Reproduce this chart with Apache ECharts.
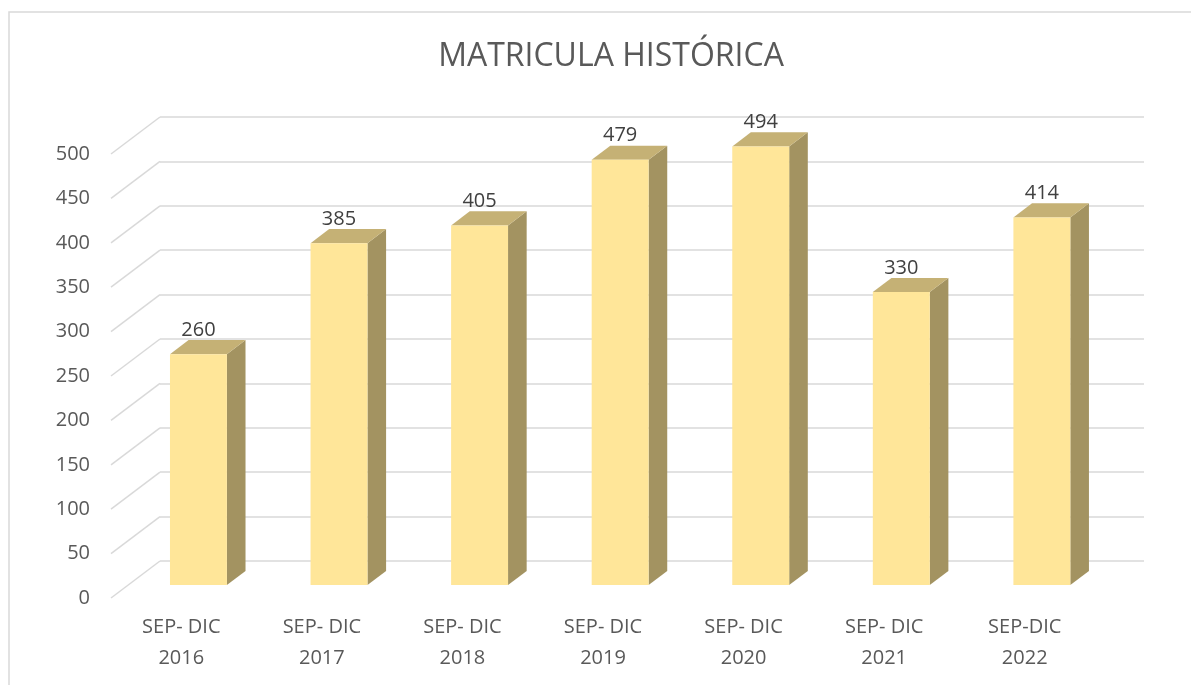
<!DOCTYPE html>
<html>
<head>
<meta charset="utf-8">
<script src="https://cdn.jsdelivr.net/npm/echarts@6/dist/echarts.min.js"></script>
<style>
  html, body { margin: 0; padding: 0; background: #fff; }
  #main { width: 1191px; height: 685px; }
</style>
</head>
<body>
<div id="main"></div>
<script>
// datos de la grafica
var categorias = ['SEP- DIC\n2016', 'SEP- DIC\n2017', 'SEP- DIC\n2018', 'SEP- DIC\n2019', 'SEP- DIC\n2020', 'SEP- DIC\n2021', 'SEP-DIC\n2022']
var matricula = [260, 385, 405, 479, 494, 330, 414]
var ticks = [0, 50, 100, 150, 200, 250, 300, 350, 400, 450, 500]

// desplazamiento de la pared del fondo hacia el frente (perspectiva 3D)
var DX = -49, DY = 37
var zFrente = 0.65, zFondo = 0.27

var chart = echarts.init(document.getElementById('main'))

function renderBar(params, api) {
  var i = api.value(0)
  var v = api.value(1)
  var top = api.coord([i, v])
  var base = api.coord([i, 0])
  var w = api.size([1, 0])[0] * 0.405
  var fx = DX * zFrente, fy = DY * zFrente
  var bx = DX * zFondo, by = DY * zFondo
  var x1 = top[0] + fx - w / 2, x2 = top[0] + fx + w / 2
  var yT = top[1] + fy, yB = base[1] + fy
  var dx = bx - fx, dy = by - fy
  return {
    type: 'group',
    children: [
      {
        type: 'polygon',
        shape: { points: [[x2, yT], [x2 + dx, yT + dy], [x2 + dx, yB + dy], [x2, yB]] },
        style: { fill: '#A39361' }
      },
      {
        type: 'polygon',
        shape: { points: [[x1, yT], [x2, yT], [x2 + dx, yT + dy], [x1 + dx, yT + dy]] },
        style: { fill: '#C5B175' }
      },
      {
        type: 'rect',
        shape: { x: x1, y: yT, width: w, height: yB - yT },
        style: { fill: '#FFE699' }
      },
      {
        type: 'text',
        style: {
          text: String(v),
          x: top[0] + fx,
          y: top[1] + by - 10,
          align: 'center',
          verticalAlign: 'middle',
          fill: '#404040',
          font: '20px "Open Sans", sans-serif'
        }
      }
    ]
  }
}

// lineas diagonales del piso lateral
function renderDiag(params, api) {
  var v = api.value(0)
  var p = api.coord([0, v])
  var x0 = params.coordSys.x
  return {
    type: 'line',
    shape: { x1: x0, y1: p[1], x2: x0 + DX, y2: p[1] + DY },
    style: { stroke: '#D9D9D9', lineWidth: 1.5 }
  }
}

var option = {
  backgroundColor: '#fff',
  animation: false,
  title: {
    text: 'MATRICULA HISTÓRICA',
    left: 606,
    textAlign: 'center',
    top: 36,
    textStyle: {
      color: '#595959',
      fontSize: 32,
      fontWeight: 'normal',
      fontFamily: 'Open Sans'
    }
  },
  graphic: [{
    type: 'rect',
    shape: { x: 9, y: 12, width: 1300, height: 800 },
    style: { fill: 'none', stroke: '#D9D9D9', lineWidth: 1.5 },
    silent: true
  }],
  grid: [
    { left: 160, right: 47, top: 117, bottom: 124 },
    { left: 111, right: 96, top: 154, bottom: 87 }
  ],
  xAxis: [
    {
      type: 'category', gridIndex: 0, data: categorias,
      axisLine: { show: false }, axisTick: { show: false }, axisLabel: { show: false }
    },
    {
      type: 'category', gridIndex: 1, data: categorias,
      axisLine: { show: false }, axisTick: { show: false },
      axisLabel: {
        margin: 14, color: '#595959', fontSize: 20, lineHeight: 31,
        fontFamily: 'Open Sans', interval: 0
      }
    }
  ],
  yAxis: [
    {
      type: 'value', gridIndex: 0, min: 0, max: 500, interval: 50,
      axisLabel: { show: false }, axisLine: { show: false }, axisTick: { show: false },
      splitLine: { lineStyle: { color: '#D9D9D9', width: 1.5 } }
    },
    {
      type: 'value', gridIndex: 1, min: 0, max: 500, interval: 50,
      axisLine: { show: false }, axisTick: { show: false }, splitLine: { show: false },
      axisLabel: { margin: 21, color: '#595959', fontSize: 20, fontFamily: 'Open Sans' }
    }
  ],
  series: [
    {
      type: 'custom',
      xAxisIndex: 0, yAxisIndex: 0,
      renderItem: renderDiag,
      data: ticks.map(function (t) { return [t] }),
      encode: { y: 0 },
      silent: true
    },
    {
      type: 'custom',
      xAxisIndex: 0, yAxisIndex: 0,
      renderItem: renderBar,
      data: matricula.map(function (v, i) { return [i, v] }),
      encode: { x: 0, y: 1 }
    }
  ]
}

chart.setOption(option)
</script>
</body>
</html>
